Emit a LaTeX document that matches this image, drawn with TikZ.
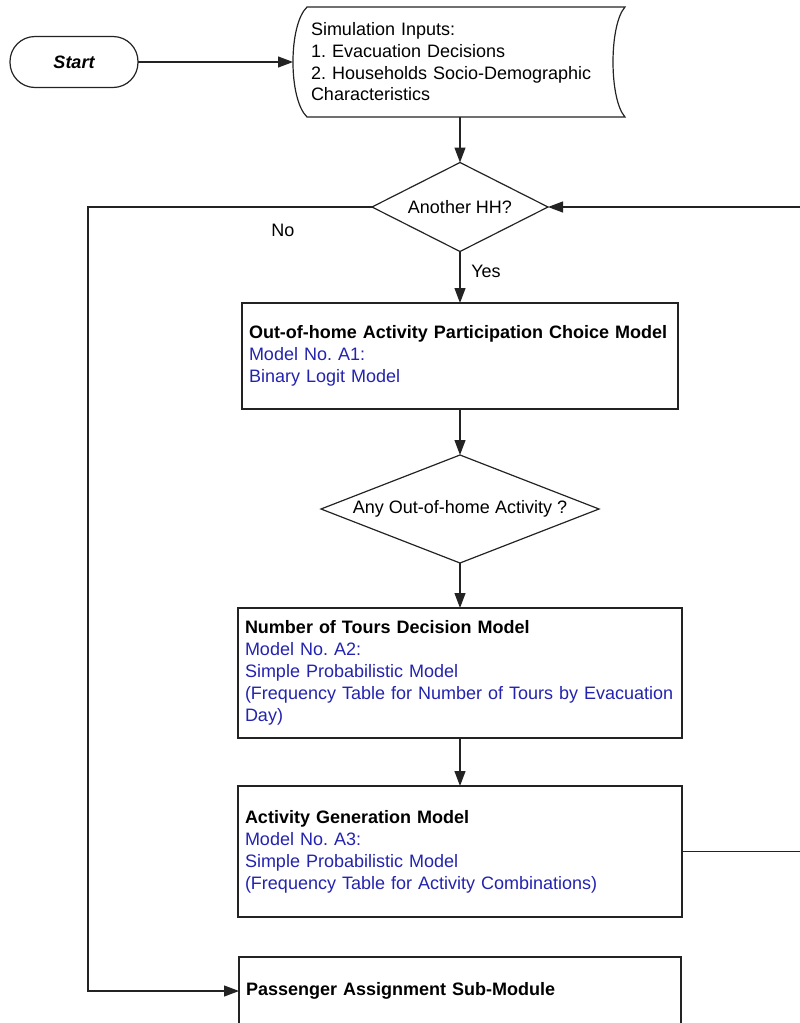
\documentclass[tikz,border=0pt]{standalone}
\usepackage{fontspec}
\setmainfont{Liberation Sans}
\usetikzlibrary{arrows.meta,shapes.geometric}
\definecolor{modelblue}{RGB}{35,35,175}
\definecolor{edge}{RGB}{35,35,35}
\newcommand{\mdl}[1]{\textcolor{modelblue}{#1}}
\frenchspacing
\begin{document}
\begin{tikzpicture}[x=1pt,y=-1pt,
  font=\fontsize{18}{22}\selectfont,
  wire/.style={draw=edge, line width=1.2pt},
  flow/.style={wire, -{Triangle[length=15pt,width=11pt]}},
  procbox/.style={draw=edge, line width=1.2pt, rectangle, inner xsep=7pt,
    inner ysep=0pt, outer sep=0pt, align=left},
  decision/.style={draw=edge, line width=1.2pt, diamond, inner sep=0pt,
    outer sep=0pt},
  terminal/.style={draw=edge, line width=1.2pt, rectangle, rounded corners=25pt,
    outer sep=0pt, minimum width=128pt, minimum height=51pt,
    font=\bfseries\itshape\fontsize{18}{22}\selectfont},
  datatext/.style={rectangle, inner xsep=18pt, inner ysep=0pt, outer sep=0pt,
    align=left, text width=296pt, minimum height=110pt,
    font=\fontsize{18}{21.7}\selectfont}
]
\useasboundingbox (0,0) rectangle (800,1023);

% start terminal and the stored-data input block
\node[terminal] (start) at (74,62) {Start};
\node[datatext] (inp) at (459,62) {Simulation Inputs:\\1. Evacuation Decisions\\
  2. Households Socio-Demographic\\Characteristics};
\draw[wire] (307,7) -- (625,7)
  .. controls (609,25) and (609,99) .. (625,117) -- (307,117)
  .. controls (288.3,99) and (288.3,25) .. (307,7) -- cycle;

% household loop decision
\node[decision, aspect=1.98, minimum width=176pt, minimum height=89pt] (hh)
  at (460,207) {Another HH?};

% activity participation model
\node[procbox, text width=422pt, minimum height=106pt] (a1) at (460,356)
  {\textbf{Out-of-home Activity Participation Choice Model}\\
   \mdl{Model No. A1:}\\\mdl{Binary Logit Model}};

\node[decision, aspect=2.57, minimum width=278pt, minimum height=108pt] (ao)
  at (460,509) {Any Out-of-home Activity ?};

% number of tours model
\node[procbox, text width=430pt, minimum height=130pt] (a2) at (460,673)
  {\textbf{Number of Tours Decision Model}\\
   \mdl{Model No. A2:}\\\mdl{Simple Probabilistic Model}\\
   \mdl{(Frequency Table for Number of Tours by Evacuation}\\\mdl{Day)}};

% activity generation model
\node[procbox, text width=430pt, minimum height=131pt] (a3) at (460,851.5)
  {\textbf{Activity Generation Model}\\
   \mdl{Model No. A3:}\\\mdl{Simple Probabilistic Model}\\
   \mdl{(Frequency Table for Activity Combinations)}};

% passenger assignment sub-module
\node[procbox, text width=428pt, minimum height=68pt] (pa) at (460,991)
  {\textbf{Passenger Assignment Sub-Module}};

% branch labels
\node (nolab) at (283,230) {No};
\node (yeslab) at (486,271) {Yes};

% return rails of the loops
\coordinate (lx) at (88,0);
\coordinate (rx) at (801,0);

% connectors
\draw[flow] (start.east) -- (inp.west);
\draw[flow] (inp.south -| hh.north) -- (hh.north);
\draw[flow] (hh.south) -- (a1.north);
\draw[flow] (a1.south) -- (ao.north);
\draw[flow] (ao.south) -- (a2.north);
\draw[flow] (a2.south) -- (a3.north);
\draw[flow] (hh.west) -- (hh.west -| lx) |- (pa.west);
\draw[flow] (a3.east) -- (a3.east -| rx) |- (hh.east);
\end{tikzpicture}
\end{document}
